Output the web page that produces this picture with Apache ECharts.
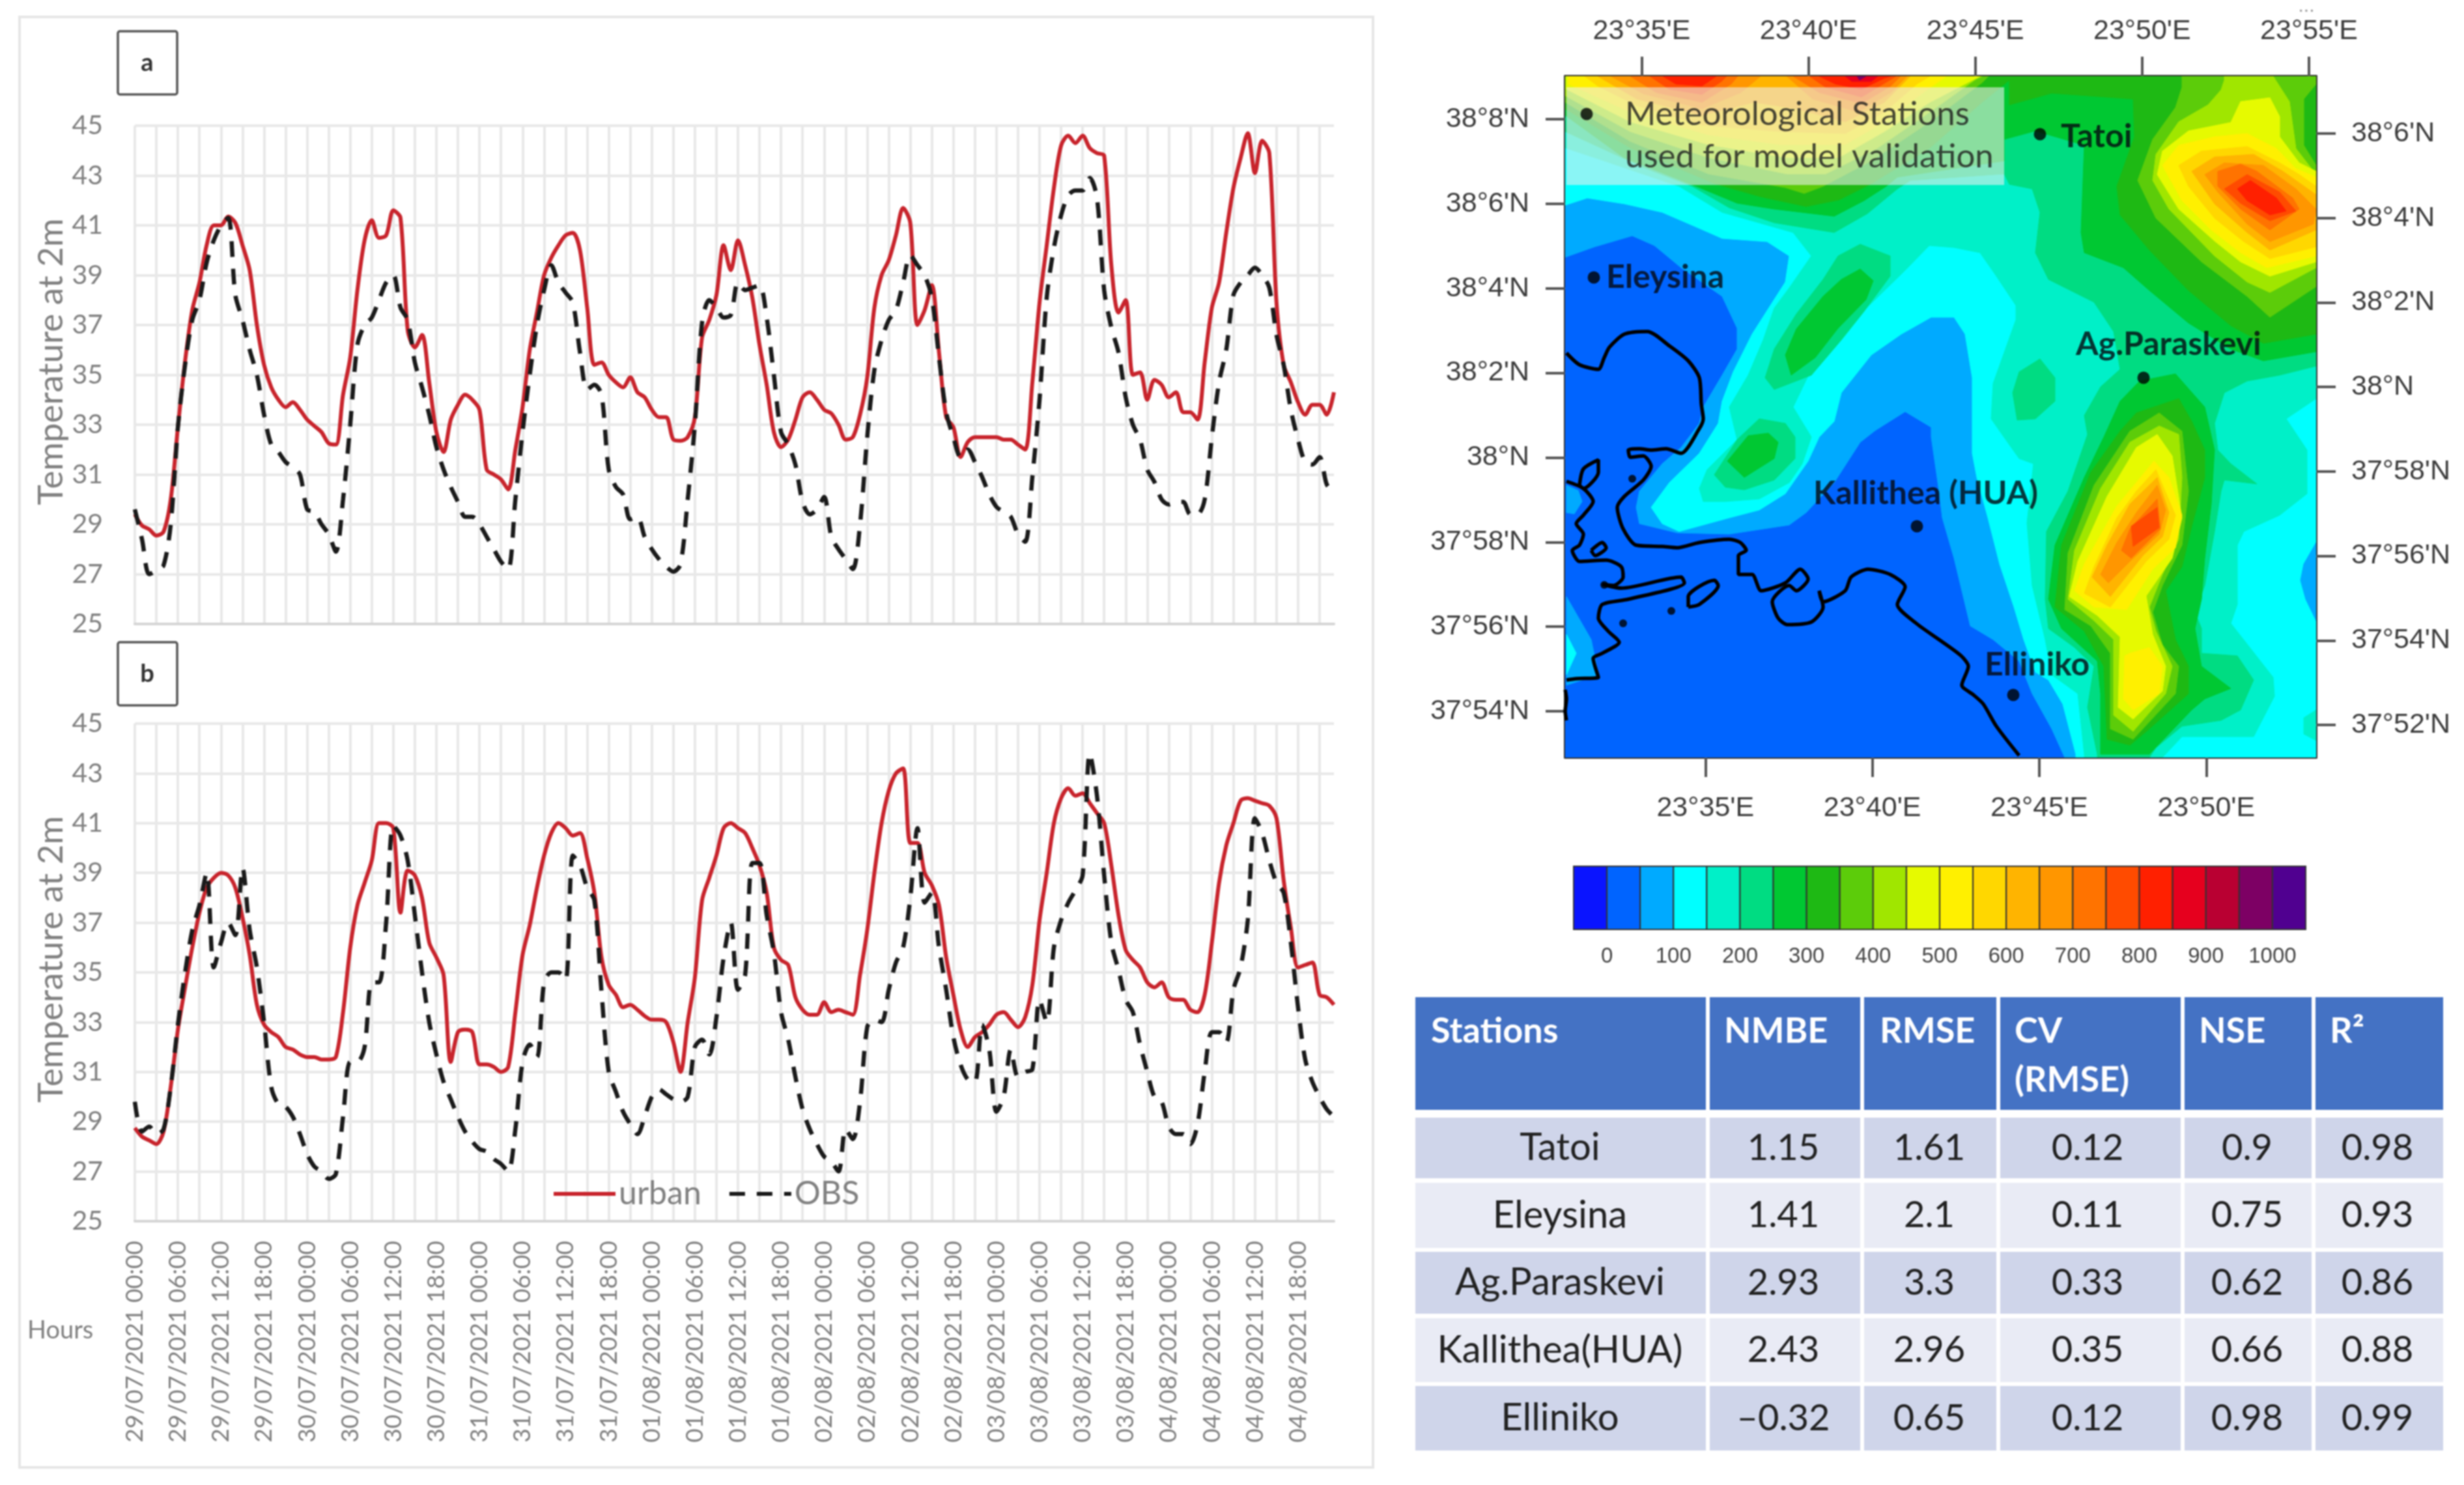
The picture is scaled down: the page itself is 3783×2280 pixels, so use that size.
<!DOCTYPE html>
<html><head><meta charset="utf-8">
<style>html,body{margin:0;padding:0;background:#fff}#c{width:3783px;height:2280px;filter:blur(1.2px)}</style>
<script src="https://cdn.jsdelivr.net/npm/echarts@6/dist/echarts.min.js"></script>
</head><body><div id="c"></div>
<script>
const aUrban=[29.4,28.95,28.8,28.55,28.7,30.0,32.9,35.55,37.6,38.7,
40.2,41,41,41.35,41.1,40.2,39.2,37,35.4,34.5,
34,33.7,33.9,33.6,33.2,32.95,32.7,32.25,32.2,34.2,
35.7,38.4,40.4,41.2,40.5,40.6,41.6,41.3,36.8,36.1,
36.6,34.7,32.7,31.9,33.2,33.8,34.2,34,33.6,31.2,
31,30.8,30.4,32,33.7,36,37.5,39,39.7,40.2,
40.6,40.7,40,37.7,35.4,35.5,35,34.7,34.5,34.9,
34.3,34.1,33.6,33.3,33.3,32.4,32.35,32.5,33.3,36.5,
37.2,38.2,40.2,39.2,40.4,39.4,38.1,36.2,34.6,32.7,
32.1,32.4,33.2,34.1,34.3,34,33.6,33.45,33,32.4,
32.5,33.4,34.9,37.7,39,39.6,40.6,41.7,41.1,37,
37.6,38.6,35.9,33.3,32.9,31.7,32.3,32.5,32.5,32.5,
32.5,32.4,32.4,32.2,32,34.7,37.9,40.2,42.5,44.2,
44.6,44.3,44.6,44.1,43.9,43.8,39.4,37.5,38,35,
35.1,34,34.8,34.6,34.1,34.3,33.5,33.5,33.2,35.5,
37.7,38.7,40.7,42.5,43.7,44.7,43.1,44.4,43.9,37.9,
35.4,34.7,33.9,33.4,33.8,33.8,33.4,34.3];
const aObs=[29.6,28.4,27,27.15,27.35,29,32.9,35.4,37.2,38,
39.5,40.4,41,41.3,38.2,37.2,36,35,33.4,32.2,
31.9,31.5,31.3,31,29.6,29.5,29,28.6,27.9,30,
33,36.2,37,37.3,38,38.7,39,37.7,37.2,35.5,
34.5,33.4,32.1,31.2,30.5,29.9,29.3,29.3,29,28.5,
28,27.5,27.2,30,32.7,35,37,38.4,39.4,38.7,
38.3,37.9,35.9,34.4,34.6,34.2,31.2,30.5,30.2,29.2,
29.3,28.5,28,27.6,27.3,27.1,27.4,30,33,37.1,
38,37.7,37.3,37.4,38.7,38.4,38.5,38.6,37.3,35,
32.7,32.2,31.4,29.9,29.4,29.6,30.1,28.5,28,27.6,
27.2,29,32.5,35.2,36.4,37.2,37.6,38.7,39.8,39.4,
39,38.1,35.7,33.5,32.5,31.7,32,31.5,30.9,30.2,
29.7,29.5,29.3,28.6,28.3,30.9,34,38.1,40.1,41.4,
42.2,42.4,42.4,42.9,42.1,38.4,36.9,35.9,34.1,33,
32.4,31.2,30.7,30,29.8,29.9,29.9,29.4,29.4,30,
32.5,34.7,36,38.2,38.7,39,39.3,39,38.5,36.6,
35.4,33.6,32.4,31.5,31.4,31.7,30.6,30.3];
const bUrban=[28.75,28.4,28.25,28.1,28.6,30.4,32.7,34.4,36,37.4,
38.4,38.8,39,38.9,38.4,37.2,35.7,33.7,32.9,32.6,
32.4,32,31.9,31.7,31.6,31.6,31.5,31.5,31.6,33.4,
36,37.7,38.6,39.5,41,41,40.8,37.4,39.1,38.9,
38,36.2,35.6,34.9,31.4,32.6,32.7,32.6,31.3,31.3,
31.2,31,31.2,33.4,35.7,36.9,38.4,39.7,40.6,41,
40.8,40.5,40.6,39.6,38.2,35.6,34.5,34.1,33.6,33.7,
33.5,33.25,33.1,33.1,33,32.2,31,33,34.8,37.9,
38.8,39.7,40.8,41,40.8,40.6,40,39.3,38.2,36,
35.5,35.3,34,33.5,33.3,33.3,33.8,33.4,33.5,33.4,
33.3,34.9,36.7,39,41,42.3,43,43.2,40.2,40.2,
39,38.5,37.7,35.6,34.1,32.7,32,32.4,32.6,32.9,
33.3,33.4,33.1,32.8,33.2,34.5,37.1,39,41,42,
42.4,42.1,42.2,41.8,41.4,41,39.3,37.3,35.9,35.5,
35.2,34.6,34.4,34.6,34,33.9,33.9,33.5,33.4,34.1,
36.2,38.6,40.1,41,41.9,42,41.9,41.8,41.7,41.2,
38.7,36.8,35.2,35.3,35.4,34.1,34,33.7];
const bObs=[29.8,28.6,28.8,28.5,28.7,30.4,32.9,35,36.7,37.7,
39,35.2,36.2,37,36.5,39.2,36.7,35.2,33,30.4,
29.7,29.6,29.2,28.5,27.7,27.2,27,26.7,26.9,29.2,
31.4,31.4,32,34.6,34.6,37,40.9,40.5,39.5,37.3,
35,33,31.7,30.6,29.9,29.2,28.6,28.2,27.9,27.8,
27.5,27.3,27,28.7,31.4,32.1,31.6,34.6,35,35,
34.7,39.7,39.3,38.4,37.9,34.2,31,30.2,29.4,28.9,
28.5,29.2,30,30.3,30.1,29.9,29.8,30,32,32.3,
31.7,33.2,35.6,37,34.3,34.9,39.4,39.4,37.3,35.8,
33.4,32.3,30.8,29.5,28.7,28.1,27.6,27.4,27,28.7,
28.3,29.8,32.8,33.1,33,34.3,35.4,36,38,40.8,
37.8,38.2,36,34.3,32.4,31.3,30.7,30.6,32.9,31.9,
29.4,30,31.9,30.8,31,31.1,33.9,33,36,37.1,
37.8,38.3,38.9,43.8,42.1,38.9,36.2,35.1,33.9,33.4,
32.1,31,30,29.8,28.8,28.5,28.5,28.1,28.9,31,
32.6,32.6,32.2,34.3,35.2,37.1,41.2,40.6,39.5,38.6,
38.2,36.2,33.6,31.5,30.6,30,29.5,29.2];
const days=['29/07/2021','30/07/2021','31/07/2021','01/08/2021','02/08/2021','03/08/2021','04/08/2021'];
const hourLabels=[];days.forEach(d=>{for(let h=0;h<24;h++)hourLabels.push(d+' '+String(h).padStart(2,'0')+':00');});

// colour scale (elevation, m)
const bandColors=['#0a14ff','#0064ff','#00aaff','#00ffff','#00f0c8','#00dc82','#00c832','#1eb914','#5ccc0a','#a0e600','#e6fa00','#fff000','#ffd700','#ffb400','#ff9600','#ff7300','#ff4b00','#ff2000','#e6001e','#b90032','#7d0064','#500090'];
const bandStarts=[-50,0,50,100,150,200,250,300,350,400,450,500,550,600,650,700,750,800,850,900,950,1000];
const barTicks=[0,100,200,300,400,500,600,700,800,900,1000];

// filled elevation contours in model-domain grid units: [band index, outline]
const contours=[
[1,[[0,0],[1153,0],[1153,1046],[0,1046]]],
[2,[[0,0],[1153,0],[1153,1046],[767,1046],[747,1002],[717,948],[697,898],[657,865],[622,844],[597,740],[579,678],[574,637],[562,554],[562,539],[522,515],[476,544],[453,562],[413,624],[370,670],[344,689],[252,703],[172,701],[114,687],[109,662],[114,637],[149,595],[178,570],[206,533],[212,508],[241,459],[264,419],[264,387],[241,338],[178,294],[137,260],[103,245],[45,262],[0,278]]],
[2,[[2,628],[20,636],[26,653],[14,672],[2,670]]],
[2,[[2,799],[40,865],[51,919],[2,935]]],
[3,[[2,857],[17,886],[2,919]]],
[3,[[0,0],[0,198],[34,187],[91,196],[149,209],[200,231],[241,249],[310,254],[344,276],[338,316],[315,352],[287,396],[258,454],[241,499],[235,533],[206,579],[160,624],[132,662],[149,687],[175,699],[252,678],[298,666],[338,641],[373,591],[390,554],[413,530],[424,486],[470,428],[516,396],[562,370],[597,370],[614,396],[625,463],[625,579],[632,616],[649,678],[667,749],[689,815],[704,865],[722,915],[742,927],[764,964],[784,1041],[784,1046],[1153,1046],[1153,0]]],
[2,[[1153,716],[1134,749],[1129,774],[1137,803],[1153,836]]],
[4,[[0,0],[0,110],[60,130],[175,169],[241,209],[350,240],[378,276],[344,325],[321,356],[304,405],[281,459],[252,508],[264,558],[218,604],[206,633],[212,653],[246,653],[298,649],[344,624],[364,595],[378,554],[350,508],[378,450],[424,392],[476,343],[522,298],[559,260],[597,263],[637,271],[662,307],[692,352],[692,374],[657,472],[654,526],[682,566],[697,587],[719,595],[709,686],[717,782],[737,865],[747,919],[787,948],[797,1041],[797,1046],[917,1046],[947,1014],[1057,1014],[1089,952],[1087,923],[1022,840],[1032,811],[1032,720],[1042,699],[1097,674],[1139,641],[1139,574],[1107,526],[1153,495],[1153,0]]],
[4,[[1153,973],[1134,985],[1134,1010],[1153,1020]]],
[5,[[453,258],[499,276],[499,307],[459,361],[424,405],[378,459],[321,481],[307,463],[321,419],[355,365],[396,312],[419,276]]],
[5,[[229,612],[246,631],[275,635],[321,620],[353,587],[353,554],[338,533],[298,526],[264,558]]],
[6,[[249,591],[275,616],[321,587],[327,562],[312,548],[281,552]]],
[6,[[453,296],[473,314],[462,343],[419,387],[384,432],[347,459],[338,428],[355,388],[396,338],[424,312]]],
[5,[[0,0],[0,85],[120,140],[195,169],[252,202],[321,225],[413,240],[464,211],[510,173],[530,160],[674,150],[682,166],[717,173],[729,209],[722,271],[742,312],[812,347],[842,392],[852,450],[822,477],[797,521],[802,550],[772,637],[739,699],[737,803],[742,848],[782,877],[812,906],[802,969],[817,1041],[817,1046],[897,1046],[907,1031],[947,998],[1007,989],[1037,973],[1057,927],[1032,890],[977,886],[977,848],[967,823],[982,782],[997,699],[1007,637],[1012,620],[1062,626],[1022,595],[1002,574],[997,533],[1012,486],[1047,468],[1097,459],[1153,445],[1153,0]]],
[5,[[729,434],[752,463],[752,499],[722,526],[694,528],[687,486],[697,454]]],
[6,[[0,0],[0,60],[90,125],[178,160],[206,171],[264,195],[321,204],[413,215],[459,191],[493,169],[510,155],[674,130],[674,97],[722,84],[797,106],[792,240],[797,271],[857,294],[897,329],[957,379],[1022,419],[1072,437],[1153,423],[1153,0]]],
[6,[[937,457],[982,508],[997,574],[992,657],[982,740],[977,803],[967,848],[977,906],[1022,940],[982,956],[962,973],[897,1041],[822,1041],[822,948],[817,898],[762,848],[742,803],[752,720],[797,616],[827,554],[852,499],[882,468]]],
[7,[[0,0],[0,50],[100,110],[230,165],[300,185],[370,200],[420,190],[470,165],[560,110],[640,40],[682,6],[682,44],[747,26],[872,35],[874,93],[847,169],[852,213],[897,267],[957,329],[1022,383],[1072,410],[1153,396],[1153,0]]],
[7,[[942,495],[962,530],[982,574],[982,616],[962,691],[947,753],[922,790],[937,865],[957,906],[957,948],[897,1002],[867,1027],[832,1018],[827,906],[797,852],[752,815],[762,720],[807,608],[852,545],[877,517]]],
[8,[[0,0],[0,40],[100,100],[220,150],[338,171],[367,180],[396,169],[470,130],[560,70],[640,10],[650,0]]],
[8,[[947,0],[947,17],[937,48],[902,97],[879,160],[907,218],[977,285],[1047,338],[1082,370],[1153,323],[1153,137],[1134,106],[1134,35],[1153,12],[1153,0]]],
[8,[[912,517],[947,545],[957,637],[947,720],[917,782],[902,823],[917,873],[942,906],[937,948],[872,1018],[837,1002],[837,886],[807,844],[767,819],[772,732],[812,628],[867,545]]],
[9,[[0,0],[0,30],[100,85],[220,125],[340,150],[400,150],[480,110],[560,55],[630,5],[640,0]]],
[9,[[1012,0],[1012,6],[1007,21],[987,44],[942,70],[907,120],[902,160],[927,204],[997,276],[1047,316],[1082,332],[1153,294],[1153,151],[1122,111],[1112,39],[1087,0]]],
[9,[[912,537],[942,550],[947,616],[942,711],[917,765],[897,815],[907,852],[932,906],[922,948],[872,1006],[842,981],[842,865],[812,836],[772,803],[782,728],[822,633],[867,562]]],
[10,[[2,0],[2,20],[100,70],[220,105],[340,125],[420,125],[490,85],[560,40],[637,0]]],
[10,[[1037,39],[1082,33],[1097,62],[1097,93],[1127,133],[1153,146],[1153,285],[1082,307],[1037,285],[997,253],[942,204],[909,151],[917,115],[957,84],[1022,71]]],
[10,[[909,550],[932,583],[947,678],[932,740],[892,798],[902,857],[922,906],[917,944],[872,987],[849,969],[852,861],[817,828],[774,799],[787,745],[832,645],[877,570]]],
[11,[[5,0],[5,12],[100,55],[220,90],[330,105],[430,105],[490,70],[550,25],[585,0]]],
[11,[[917,137],[942,106],[997,93],[1047,88],[1092,111],[1122,142],[1153,155],[1153,276],[1077,294],[1037,271],[992,236],[947,191]]],
[11,[[904,591],[927,616],[947,674],[937,724],[902,757],[862,819],[812,815],[782,790],[797,749],[847,660]]],
[11,[[867,886],[897,877],[917,906],[912,948],[872,973],[857,956],[859,890]]],
[12,[[30,0],[50,15],[110,45],[210,75],[330,85],[430,88],[490,55],[540,12],[560,0]]],
[12,[[942,137],[977,115],[1047,108],[1097,133],[1127,151],[1153,169],[1153,262],[1082,280],[1042,254],[997,218],[957,169]]],
[12,[[907,604],[937,674],[927,711],[892,745],[837,815],[797,794],[812,753],[847,678],[877,637]]],
[13,[[50,0],[110,35],[210,60],[290,40],[355,50],[430,70],[490,40],[530,0]]],
[13,[[962,146],[997,124],[1057,120],[1102,146],[1153,182],[1153,236],[1082,267],[1047,240],[997,196]]],
[13,[[909,616],[927,670],[917,707],[887,736],[837,799],[809,769],[832,720],[867,657]]],
[14,[[70,0],[120,27],[210,50],[270,25],[300,0]]],
[14,[[340,0],[380,35],[450,55],[500,25],[525,0]]],
[14,[[982,151],[1012,133],[1072,137],[1122,173],[1153,204],[1149,227],[1082,254],[1047,227],[1002,178]]],
[14,[[909,628],[922,666],[912,703],[867,745],[834,778],[822,765],[847,716],[877,670]]],
[15,[[100,0],[140,25],[210,40],[255,12],[265,0]]],
[15,[[350,0],[390,25],[455,42],[500,15],[515,0]]],
[15,[[1002,146],[1037,135],[1062,146],[1117,187],[1127,204],[1082,236],[1037,204],[1002,169]]],
[15,[[909,649],[914,695],[869,740],[854,728],[867,695]]],
[16,[[130,0],[160,20],[210,28],[240,8],[248,0]]],
[16,[[375,0],[400,17],[455,32],[495,8],[508,0]]],
[16,[[1012,173],[1047,151],[1097,178],[1122,207],[1082,222],[1037,195]]],
[16,[[909,662],[912,693],[872,722],[869,691]]],
[17,[[150,0],[170,12],[210,15],[232,0]]],
[17,[[390,0],[415,12],[455,20],[490,3],[500,0]]],
[17,[[1032,173],[1052,160],[1092,187],[1107,207],[1082,213],[1047,191]]],
[18,[[430,0],[440,8],[470,8],[480,0]]],
[20,[[448,0],[452,6],[462,0]]]
];
const legendBox=[[2,17],[674,17],[674,167],[2,167]];

// coastline and islands, same grid units
const coastEast=[[2,425],[22,443],[51,450],[60,432],[68,416],[91,396],[126,392],[160,414],[189,437],[206,463],[209,503],[212,526],[206,541],[178,579],[155,572],[132,574],[114,572],[97,574],[100,585],[120,583],[132,599],[120,620],[91,645],[80,662],[89,695],[109,720],[149,722],[172,724],[206,716],[252,711],[269,716],[278,728],[266,736],[266,765],[287,765],[301,790],[338,778],[361,757],[373,772],[355,790],[344,782],[318,807],[327,832],[341,842],[378,838],[396,815],[390,790],[396,807],[430,790],[439,769],[465,757],[499,765],[522,784],[510,811],[539,840],[574,865],[608,890],[619,906],[609,935],[627,950],[642,964],[662,998],[697,1043]];
const coastWest=[[2,622],[28,633],[43,653],[28,674],[17,687],[28,703],[22,720],[11,728],[22,745],[63,743],[86,753],[89,769],[74,782],[57,780],[86,786],[178,769],[183,778],[97,803],[57,811],[51,832],[66,852],[83,869],[57,886],[43,894],[51,923],[17,925],[2,927]];
const coastEdge=[[0,942],[2,956],[0,975],[2,989]];
const islandA=[[22,628],[28,603],[51,589],[51,608],[28,633],[22,628]];
const islandB=[[189,815],[189,799],[229,774],[235,782],[206,811],[189,815]];
const islandC=[[40,728],[57,716],[63,724],[46,736],[40,728]];
const islets=[[103,618],[163,821],[89,840],[60,781]];

const stationDots=[[729,89],[44,309],[888,463],[540,691],[688,950],[33,58]];
const stationNames=[['Tatoi',761,93],['Eleysina',63,309],['Ag.Paraskevi',784,412],['Kallithea (HUA)',381,641],['Elliniko',644,904]];
const legendLines=[['Meteorological Stations',92,59],['used for model validation',92,124]];

const lonTop=[35,40,45,50,55], lonBottom=[35,40,45,50];
const latLeft=[54,56,58,60,62,64,66,68], latRight=[52,54,56,58,60,62,64,66];

// validation table
const tableHeader=['Stations','NMBE','RMSE','CV','NSE','R²'];
const tableStations=['Tatoi','Eleysina','Ag.Paraskevi','Kallithea(HUA)','Elliniko'];
const colNMBE=['1.15','1.41','2.93','2.43','–0.32'];
const colRMSE=['1.61','2.1','3.3','2.96','0.65'];
const colCV=['0.12','0.11','0.33','0.35','0.12'];
const colNSE=['0.9','0.75','0.62','0.66','0.98'];
const colR2=['0.98','0.93','0.86','0.88','0.99'];

const UI='Lato, "Open Sans", sans-serif', MAPF='"Liberation Sans", Arial, sans-serif';
const GREY='#808080';

function lonFmt(v){return "23°"+v+"'E";}
function latFmt(v){const d=37+Math.floor(v/60),m=v%60;return m===0?d+"°N":d+"°"+m+"'N";}

function tsX(i,show){return {type:'category',gridIndex:i,data:hourLabels,boundaryGap:false,
  axisLine:{lineStyle:{color:'#d4d4d4',width:4}},axisTick:{show:false},
  splitLine:{show:true,interval:2,lineStyle:{color:'#e8e8e8',width:4}},
  axisLabel:{show:show,interval:5,rotate:90,margin:30,fontFamily:UI,fontSize:37,color:GREY}};}
function tsY(i){return {type:'value',gridIndex:i,min:25,max:45,interval:2,
  name:'Temperature at 2m',nameLocation:'middle',nameGap:102,nameRotate:90,nameMoveOverlap:false,
  nameTextStyle:{fontFamily:UI,fontSize:53,color:GREY,padding:[0,0,0,40]},
  axisLine:{show:false},axisTick:{show:false},
  splitLine:{lineStyle:{color:'#e8e8e8',width:4}},
  axisLabel:{margin:49,fontFamily:UI,fontSize:41,color:GREY}};}
function lineS(name,data,i,isObs){const col=isObs?'#1a1a1a':'#c8242c';return {type:'line',name:name,data:data,xAxisIndex:i,yAxisIndex:i,
  symbol:'none',smooth:0.3,z:isObs?4:3,itemStyle:{color:col},
  lineStyle:isObs?{color:col,width:6.5,type:[24,18]}:{color:col,width:6}};}
const mapTick=(vals)=>({show:true,customValues:vals,length:30,lineStyle:{color:'#555',width:4}});
const mapLine={show:true,onZero:false,lineStyle:{color:'#333',width:4}};
const mapLab=(vals,f,m)=>({customValues:vals,formatter:f,margin:m,fontFamily:MAPF,fontSize:43,color:'#3c3c3c'});

function polyRender(params,api){
  const item=contoursAll[api.value(0)];
  const pts=item.pts.map(p=>api.coord(p));
  return {type:'polygon',shape:{points:pts},style:{fill:item.color,stroke:item.stroke,lineWidth:item.stroke==='none'?0:1}};
}
const contoursAll=contours.map(c=>({color:bandColors[c[0]],stroke:bandColors[c[0]],pts:c[1]}));
contoursAll.push({color:'rgba(238,238,238,0.58)',stroke:'none',pts:legendBox});

function coast(d){return {type:'line',data:d,xAxisIndex:4,yAxisIndex:4,symbol:'none',smooth:0.25,z:6,silent:true,legendHoverLink:false,
  lineStyle:{color:'#000',width:5.5}};}
function textScatter(rows,weight,size){return {type:'scatter',xAxisIndex:4,yAxisIndex:4,symbolSize:0,z:8,silent:true,
  data:rows.map(r=>({value:[r[1],r[2]],name:r[0]})),
  label:{show:true,position:'right',distance:0,formatter:'{b}',fontFamily:UI,fontWeight:weight,fontSize:size,color:weight==='bold'?'#05080f':'#1c1c1c'}};}

// table drawn from the arrays above
const colX=[2173,2625,2862,3071,3354,3555], colEnd=[2619,2856,3065,3348,3549,3751];
const rowY=[[1716,1809],[1816,1916],[1922,2017],[2024,2122],[2128,2227]];
const colText=[2395,2738,2962,3205,3450,3650];
const headTextX=[2197,2647,2886,3093,3376,3577];
const graphics=[];
graphics.push({type:'rect',shape:{x:30,y:26,width:2078,height:2227},style:{fill:'none',stroke:'#e6e6e6',lineWidth:4},silent:true});
[['a',181,48],['b',181,986]].forEach(b=>{
  graphics.push({type:'rect',shape:{x:b[1],y:b[2],width:91,height:97,r:3},style:{fill:'#fff',stroke:'#555',lineWidth:3.5},z:10});
  graphics.push({type:'text',x:b[1]+45,y:b[2]+49,style:{text:b[0],fontFamily:UI,fontWeight:'bold',fontSize:38,fill:'#333',align:'center',verticalAlign:'middle'},z:11});
});
graphics.push({type:'text',x:42,y:2043,style:{text:'Hours',fontFamily:UI,fontSize:38,fill:GREY,verticalAlign:'middle'}});
graphics.push({type:'text',x:3541,y:10,style:{text:'...',fontFamily:MAPF,fontSize:30,fill:'#999',align:'center',verticalAlign:'middle'}});
tableHeader.forEach((h,i)=>{
  graphics.push({type:'rect',shape:{x:colX[i],y:1531,width:colEnd[i]-colX[i],height:173},style:{fill:'#4472c4'}});
  graphics.push({type:'text',x:headTextX[i],y:1584,style:{text:h,fontFamily:UI,fontWeight:'bold',fontSize:54,fill:'#fff',verticalAlign:'middle'}});
});
graphics.push({type:'text',x:headTextX[3],y:1659,style:{text:'(RMSE)',fontFamily:UI,fontWeight:'bold',fontSize:54,fill:'#fff',verticalAlign:'middle'}});
const tableCols=[tableStations,colNMBE,colRMSE,colCV,colNSE,colR2];
rowY.forEach((r,ri)=>{tableCols.forEach((col,ci)=>{
  graphics.push({type:'rect',shape:{x:colX[ci],y:r[0],width:colEnd[ci]-colX[ci],height:r[1]-r[0]},style:{fill:ri%2===0?'#cfd5ea':'#e9ebf5'}});
  graphics.push({type:'text',x:colText[ci],y:(r[0]+r[1])/2,style:{text:col[ri],fontFamily:UI,fontSize:ci===0?58:56,fill:'#222',align:'center',verticalAlign:'middle'}});
});});

const chart=echarts.init(document.getElementById('c'),null,{renderer:'canvas',width:3783,height:2280});
chart.setOption({
  animation:false,backgroundColor:'#fff',
  grid:[
    {left:207,top:193,width:1841,height:765,outerBoundsMode:'none'},
    {left:207,top:1111,width:1841,height:764,outerBoundsMode:'none'},
    {left:2403,top:117,width:1153,height:1046,outerBoundsMode:'none'},
    {left:2416,top:1330,width:1124,height:97,outerBoundsMode:'none'}
  ],
  legend:{data:['urban','OBS'],left:842,top:1803,itemWidth:95,itemHeight:8,itemGap:40,
    lineStyle:{width:6},
    textStyle:{fontFamily:UI,fontSize:50,color:GREY}},
  xAxis:[
    tsX(0,false),tsX(1,true),
    {type:'value',gridIndex:2,position:'bottom',min:30.8,max:53.29,splitLine:{show:false},axisLine:mapLine,axisTick:mapTick(lonBottom),axisLabel:mapLab(lonBottom,lonFmt,57)},
    {type:'value',gridIndex:2,position:'top',min:32.707,max:55.215,splitLine:{show:false},axisLine:mapLine,axisTick:mapTick(lonTop),axisLabel:mapLab(lonTop,lonFmt,47)},
    {type:'value',gridIndex:2,show:false,min:0,max:1153},
    {type:'value',gridIndex:3,min:-50,max:1050,splitLine:{show:false},axisLine:{show:false},axisTick:{show:false},
     axisLabel:{customValues:barTicks,formatter:v=>String(v),margin:25,fontFamily:MAPF,fontSize:33,color:'#444'}}
  ],
  yAxis:[
    tsY(0),tsY(1),
    {type:'value',gridIndex:2,position:'left',min:52.906,max:69.016,splitLine:{show:false},axisLine:mapLine,axisTick:mapTick(latLeft),axisLabel:mapLab(latLeft,latFmt,55)},
    {type:'value',gridIndex:2,position:'right',min:51.23,max:67.357,splitLine:{show:false},axisLine:mapLine,axisTick:mapTick(latRight),axisLabel:mapLab(latRight,latFmt,54)},
    {type:'value',gridIndex:2,show:false,inverse:true,min:0,max:1046},
    {type:'value',gridIndex:3,show:false,min:0,max:1}
  ],
  series:[
    lineS('urban',aUrban,0,false),lineS('OBS',aObs,0,true),
    lineS('urban',bUrban,1,false),lineS('OBS',bObs,1,true),
    {type:'custom',name:'elevation',xAxisIndex:4,yAxisIndex:4,z:2,silent:true,clip:true,renderItem:polyRender,
     encode:{x:0,y:1},data:contoursAll.map((c,i)=>[i,0])},
    coast(coastEast),coast(coastWest),coast(coastEdge),coast(islandA),coast(islandB),coast(islandC),
    {type:'scatter',xAxisIndex:4,yAxisIndex:4,z:7,silent:true,symbolSize:12,itemStyle:{color:'#000'},data:islets},
    {type:'scatter',xAxisIndex:4,yAxisIndex:4,z:7,silent:true,symbolSize:19,itemStyle:{color:'#000'},data:stationDots},
    textScatter(stationNames,'bold',50),textScatter(legendLines,'normal',51),
    {type:'custom',name:'colorbar',xAxisIndex:5,yAxisIndex:5,z:3,silent:true,encode:{x:0,y:1},
     data:bandStarts.map((s,i)=>[s,1,i]),
     renderItem:function(p,api){const a=api.coord([api.value(0),1]),b=api.coord([api.value(0)+50,0]);
       return {type:'rect',shape:{x:a[0],y:a[1],width:b[0]-a[0],height:b[1]-a[1]},
         style:{fill:bandColors[api.value(2)],stroke:'#333',lineWidth:2}};}}
  ],
  graphic:{elements:graphics}
});
</script></body></html>
